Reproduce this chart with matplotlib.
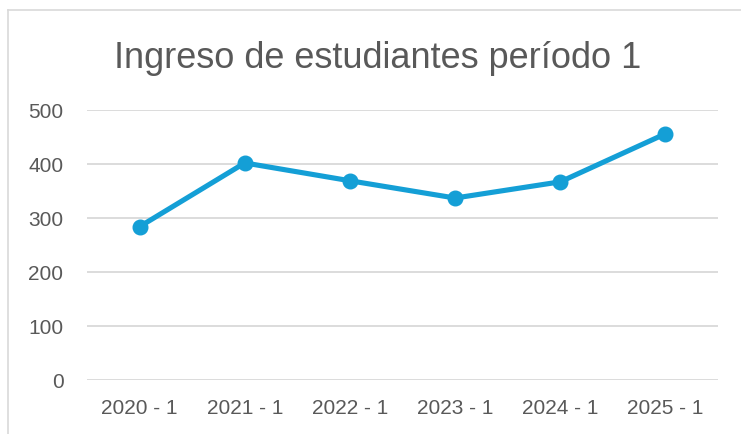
import matplotlib.pyplot as plt
from matplotlib.lines import Line2D

periodos = ['2020 - 1', '2021 - 1', '2022 - 1', '2023 - 1', '2024 - 1', '2025 - 1']
ingresos = [284, 402, 369, 337, 367, 456]
y_ticks = [0, 100, 200, 300, 400, 500]

plt.rcParams['font.family'] = ['Liberation Sans', 'DejaVu Sans']

fig = plt.figure(figsize=(7.41, 4.34), dpi=100)
ax = fig.add_axes([0.1174, 0.1244, 0.8516, 0.6221])

x = list(range(len(periodos)))
ax.plot(x, ingresos, color='#149FD6', linewidth=3.7, marker='o',
        markersize=10.5, solid_capstyle='round', zorder=3)

ax.set_xlim(-0.5, len(periodos) - 0.5)
ax.set_ylim(0, 500)
ax.set_yticks(y_ticks)
ax.set_xticks(x)
ax.set_xticklabels(periodos)
ax.grid(axis='y', color='#D9D9D9', linewidth=1.3)
ax.set_axisbelow(True)
for s in ax.spines.values():
    s.set_visible(False)
ax.tick_params(length=0, labelsize=15, labelcolor='#595959')
ax.tick_params(axis='y', pad=17)
ax.tick_params(axis='x', pad=14)

fig.text(0.509, 0.8433, 'Ingreso de estudiantes período 1', ha='center', va='baseline',
         fontsize=26, color='#595959')

# borde del área del gráfico
fig.add_artist(Line2D([0.0108, 0.0108], [0.0, 0.977], color='#D9D9D9', linewidth=1.2,
                      transform=fig.transFigure))
fig.add_artist(Line2D([0.0108, 1.0], [0.977, 0.977], color='#D9D9D9', linewidth=1.2,
                      transform=fig.transFigure))

fig.savefig('out.png', dpi=100)
